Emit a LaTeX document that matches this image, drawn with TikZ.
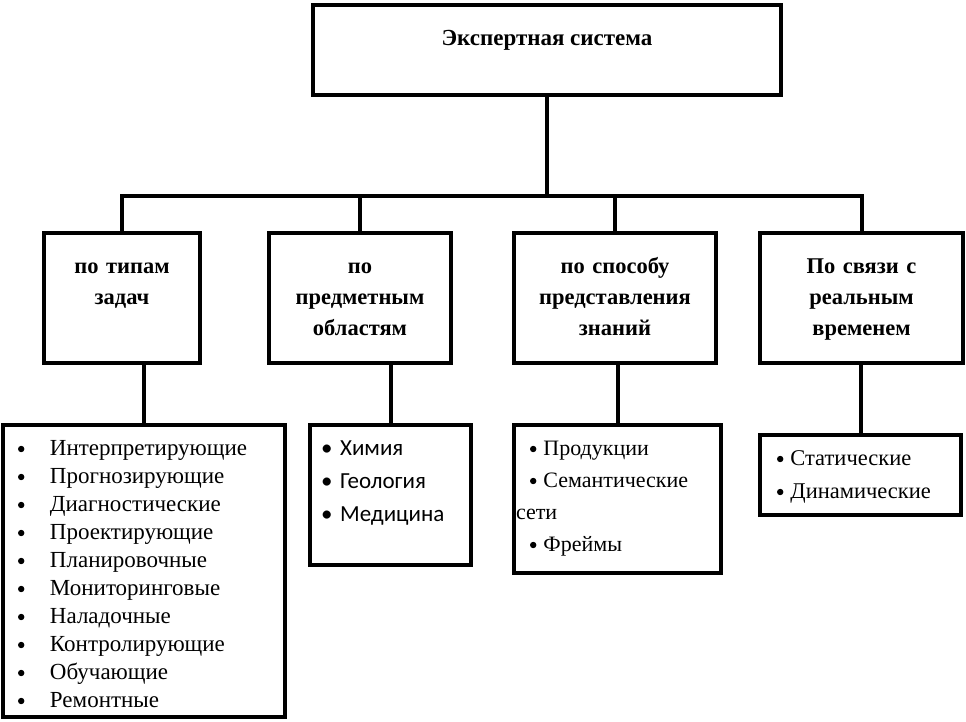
\documentclass[tikz,border=0pt]{standalone}
\usepackage{fontspec}
\setmainfont{Liberation Serif}
\newfontfamily\calibrifont{Carlito}
\usepackage{tikz}
\usetikzlibrary{positioning, calc}
\tikzstyle{sysbox} = [draw, rectangle, line width=4pt, minimum width=468pt, minimum height=90pt, text height=15pt, text depth=25pt, font=\fontsize{23}{26}\selectfont\bfseries]
\tikzstyle{catbox} = [draw, rectangle, line width=4pt, minimum height=130pt, align=center, text height=15pt, text depth=64pt, font=\fontsize{22.5}{31}\selectfont\bfseries]
\tikzstyle{leafbox} = [draw, rectangle, line width=4pt, align=left, inner ysep=16pt, text height=14pt, font=\fontsize{23}{28}\selectfont]
\tikzstyle{link} = [draw, line width=4pt]
\newcommand{\bul}{\tikz[baseline=-6pt]\fill (0,0) circle (3.2pt);}
\newcommand{\itm}[1]{\makebox[32pt][l]{\bul}#1}

\begin{document}
\begin{tikzpicture}[x=1pt, y=-1pt]
    \useasboundingbox (0,0) rectangle (966,721);
    \node (sys) [sysbox] at (547,50) {Экспертная система};

    \node (tasks) [catbox, minimum width=156pt, text width=150pt] at (122,298) {по типам\\задач};
    \node (domains) [catbox, minimum width=182pt, text width=176pt] at (360,298) {по\\предметным\\областям};
    \node (repr) [catbox, minimum width=202pt, text width=196pt] at (615,298) {по способу\\представления\\знаний};
    \node (realtime) [catbox, minimum width=203pt, text width=197pt] at (861.5,298) {По связи с\\реальным\\временем};

    \node (tasklist) [leafbox, inner xsep=15pt, minimum width=282pt, minimum height=292pt, text width=252pt, text depth=246pt] at (144,571) {\itm{Интерпретирующие}\\\itm{Прогнозирующие}\\\itm{Диагностические}\\\itm{Проектирующие}\\\itm{Планировочные}\\\itm{Мониторинговые}\\\itm{Наладочные}\\\itm{Контролирующие}\\\itm{Обучающие}\\\itm{Ремонтные}};
    \node (domainlist) [leafbox, inner xsep=11pt, minimum width=161pt, minimum height=140pt, text width=139pt, text depth=94pt, font=\calibrifont\fontsize{23}{33}\selectfont] at (390.5,495) {• Химия\\• Геология\\• Медицина};
    \node (reprlist) [leafbox, inner xsep=2pt, minimum width=207pt, minimum height=148pt, text width=203pt, text depth=102pt, font=\fontsize{22}{32}\selectfont] at (617.5,499) {\hspace*{14pt}\bul\hspace{7pt}Продукции\\\hspace*{14pt}\bul\hspace{7pt}Семантические\\сети\\\hspace*{14pt}\bul\hspace{7pt}Фреймы};
    \node (timelist) [leafbox, inner xsep=17pt, minimum width=201pt, minimum height=80pt, text width=167pt, text depth=34pt, font=\fontsize{22.5}{33}\selectfont] at (860.5,475) {\bul\hspace{7pt}Статические\\\bul\hspace{7pt}Динамические};

    \coordinate (bus) at (547,196);

    % Top level
    \draw [link] (sys.south) -- (bus);
    \draw [link] (tasks.north) |- (bus) -| (realtime.north);
    \draw [link] (domains.north) -- (domains.north |- bus);
    \draw [link] (repr.north) -- (repr.north |- bus);

    % Lists
    \draw [link] (tasklist.north) -- (tasklist.north |- tasks.south);
    \draw [link] (domainlist.north) -- (domainlist.north |- domains.south);
    \draw [link] (reprlist.north) -- (reprlist.north |- repr.south);
    \draw [link] (timelist.north) -- (timelist.north |- realtime.south);
\end{tikzpicture}
\end{document}
